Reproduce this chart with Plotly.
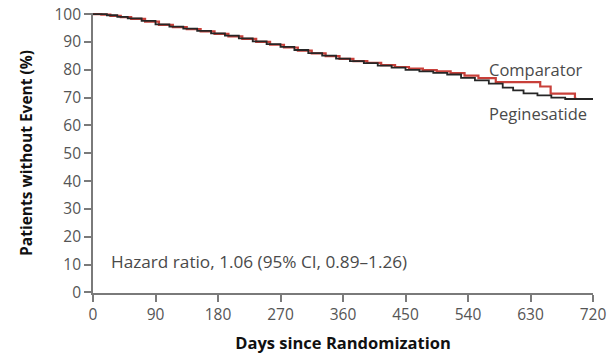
import plotly.graph_objects as go

peg_days = [0, 10, 20, 35, 50, 70, 90, 110, 130, 150, 170, 190, 210, 230, 250, 270,
            290, 310, 330, 350, 370, 390, 410, 430, 450, 470, 490, 510, 530, 550, 570,
            590, 605, 620, 640, 660, 680, 720]
peg_vals = [100, 100, 99.6, 99.0, 98.5, 97.6, 96.3, 95.5, 94.8, 94.0, 93.1, 92.3, 91.3,
            90.2, 89.2, 88.2, 87.1, 86.0, 85.1, 84.0, 83.1, 82.4, 81.5, 80.8, 80.0, 79.4,
            78.9, 78.3, 77.1, 76.2, 75.0, 73.6, 72.6, 71.5, 70.8, 70.0, 69.5, 69.5]

comp_days = [0, 12, 25, 40, 55, 75, 95, 115, 135, 155, 175, 195, 215, 235, 255, 275,
             295, 315, 335, 355, 375, 395, 415, 435, 455, 475, 495, 515, 535, 555, 580,
             644, 659, 694, 697]
comp_vals = [100, 99.8, 99.4, 98.9, 98.3, 97.3, 96.1, 95.3, 94.6, 93.8, 92.9, 92.0, 91.1,
             90.0, 89.0, 88.0, 86.9, 85.9, 84.9, 83.9, 83.1, 82.5, 81.7, 81.0, 80.4, 79.9,
             79.4, 78.8, 77.9, 77.0, 75.6, 74.0, 71.4, 69.6, 69.6]

x_ticks = [0, 90, 180, 270, 360, 450, 540, 630, 720]
y_ticks = [0, 10, 20, 30, 40, 50, 60, 70, 80, 90, 100]

font_family = "Open Sans, Lato, DejaVu Sans, sans-serif"

fig = go.Figure()
fig.add_trace(go.Scatter(x=comp_days, y=comp_vals, mode="lines", line_shape="hv",
                         line=dict(color="#c8403a", width=2.2), name="Comparator"))
fig.add_trace(go.Scatter(x=peg_days, y=peg_vals, mode="lines", line_shape="hv",
                         line=dict(color="#262626", width=1.8), name="Peginesatide"))

fig.add_annotation(x=23, y=11.1, xref="x", yref="y", xanchor="left", yanchor="middle",
                   text="Hazard ratio, 1.06 (95% CI, 0.89\u20131.26)", showarrow=False,
                   font=dict(size=17.2, color="#4a4a4a", family=font_family))
fig.add_annotation(x=568, y=80, xref="x", yref="y", xanchor="left", yanchor="middle",
                   text="Comparator", showarrow=False,
                   font=dict(size=16.5, color="#4a4a4a", family=font_family))
fig.add_annotation(x=568, y=64.3, xref="x", yref="y", xanchor="left", yanchor="middle",
                   text="Peginesatide", showarrow=False,
                   font=dict(size=16.5, color="#4a4a4a", family=font_family))

axis_common = dict(showgrid=False, zeroline=False, showline=True, linecolor="#7a7a7a",
                   linewidth=1.6, ticks="outside", tickcolor="#7a7a7a", tickwidth=1.5,
                   ticklen=7, automargin=False,
                   tickfont=dict(size=15.5, color="#555555", family=font_family))

fig.update_layout(
    width=612, height=355,
    margin=dict(l=93, r=19, t=13, b=62),
    paper_bgcolor="white", plot_bgcolor="white",
    showlegend=False,
    xaxis=dict(range=[0, 720], tickvals=x_ticks, ticktext=[str(v) for v in x_ticks],
               title=dict(text="<b>Days since Randomization</b>", standoff=13,
                          font=dict(size=16.5, color="#111111", family=font_family)),
               **axis_common),
    yaxis=dict(range=[-0.2, 100.4], tickvals=y_ticks, ticktext=[str(v) for v in y_ticks],
               title=dict(text="<b>Patients without Event (%)</b>", standoff=18,
                          font=dict(size=15.5, color="#111111", family=font_family)),
               **axis_common),
)

fig.write_html("out.html", config={"displayModeBar": False},
               post_script="document.body.style.margin='0';")
